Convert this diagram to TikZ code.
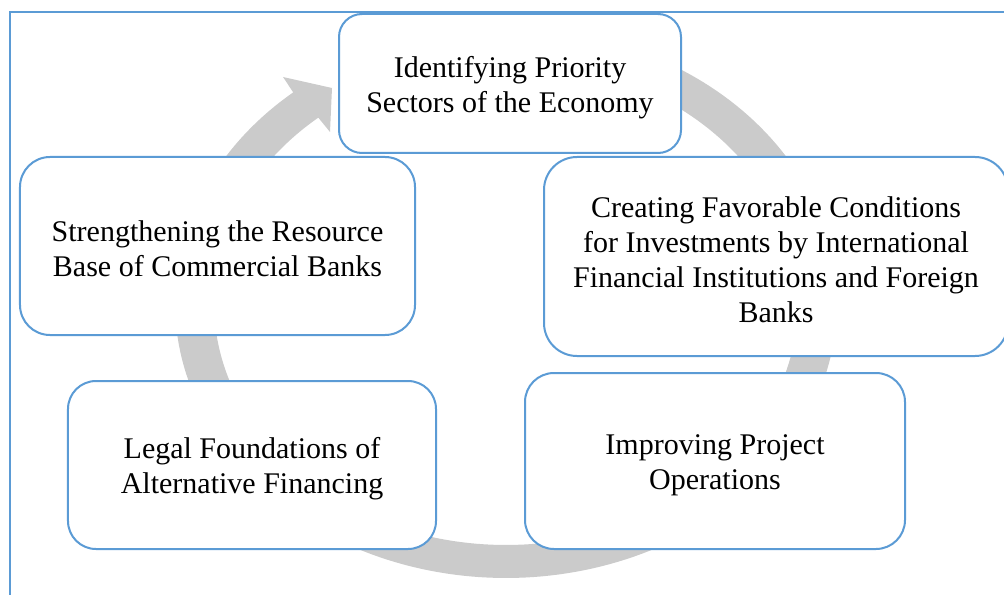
\documentclass[tikz,border=0pt]{standalone}
\usepackage{fontspec}
\setmainfont{Liberation Serif}
\definecolor{boxblue}{HTML}{5B9BD5}
\definecolor{ringgray}{HTML}{CBCBCB}
\tikzset{
  box/.style={draw=boxblue, line width=2bp, fill=white, inner sep=0pt},
  boxtext/.style={align=center, inner sep=0pt, text=black,
    font=\fontsize{30bp}{35bp}\selectfont},
  framestyle/.style={draw=boxblue, line width=2bp},
}
\begin{document}
\begin{tikzpicture}[x=1bp, y=-1bp]
\useasboundingbox (0,0) rectangle (1004,595);
\clip (0,0) rectangle (1004,595);
% frame
\draw[framestyle] (10,597) -- (10,12) -- (1006,12);
% circular arrow
\fill[ringgray]
  plot[domain=290:590, samples=200] ({506+331*cos(\x)},{303+275*sin(\x)})
  -- (283,77) -- (332,88) -- (330,132) --
  plot[domain=590:290, samples=200] ({506+292*cos(\x)},{303+242*sin(\x)})
  -- cycle;
% boxes
\node[box, minimum width=342bp, minimum height=139bp, rounded corners=23bp] (prio) at (510,83.5) {};
\node[box, minimum width=395bp, minimum height=178bp, rounded corners=30bp] (res) at (217.5,246) {};
\node[box, minimum width=464bp, minimum height=199bp, rounded corners=33bp] (inv) at (776,256.5) {};
\node[box, minimum width=368bp, minimum height=168bp, rounded corners=28bp] (legal) at (252,465) {};
\node[box, minimum width=380bp, minimum height=176bp, rounded corners=29bp] (proj) at (715,461) {};
% texts
\node[boxtext] (prio-t) at ([yshift=-4bp]prio.center) {Identifying Priority\\Sectors of the Economy};
\node[boxtext] (res-t) at ([yshift=-3bp]res.center) {Strengthening the Resource\\Base of Commercial Banks};
\node[boxtext] (inv-t) at ([yshift=-3bp]inv.center) {Creating Favorable Conditions\\for Investments by International\\Financial Institutions and Foreign\\Banks};
\node[boxtext] (legal-t) at ([yshift=-4bp]legal.center) {Legal Foundations of\\Alternative Financing};
\node[boxtext] (proj-t) at ([yshift=-4bp]proj.center) {Improving Project\\Operations};
\end{tikzpicture}
\end{document}
